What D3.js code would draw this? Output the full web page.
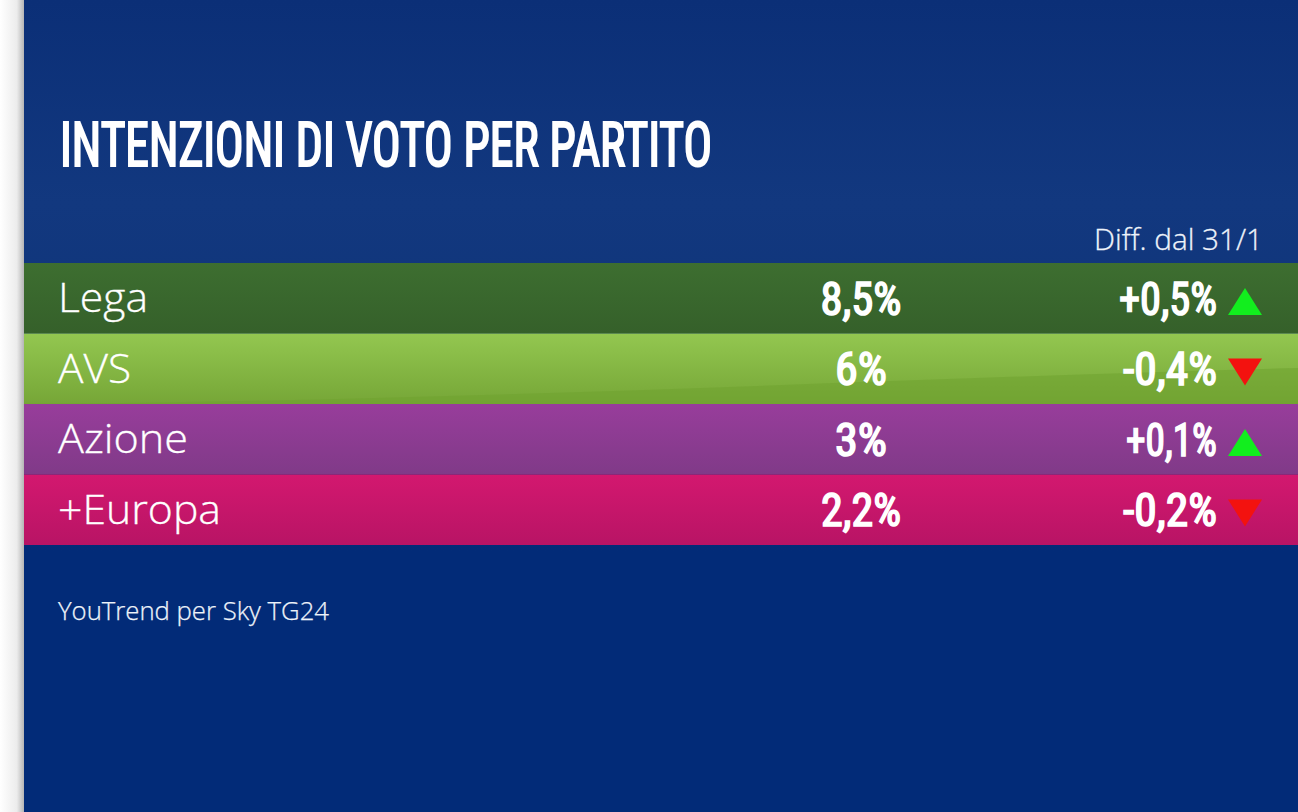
<!DOCTYPE html>
<html><head><meta charset="utf-8">
<script src="https://cdn.jsdelivr.net/npm/d3@7"></script>
<style>html,body{margin:0;padding:0;background:#fff;overflow:hidden}svg{display:block}</style>
</head><body><svg id="c" width="1298" height="812"></svg>
<script>
const parties = ["Lega","AVS","Azione","+Europa"];
const values = ["8,5%","6%","3%","2,2%"];
const diffs = ["+0,5%","-0,4%","+0,1%","-0,2%"];
const directions = ["up","down","up","down"];
const title = "INTENZIONI DI VOTO PER PARTITO";
const diffHeader = "Diff. dal 31/1";
const source = "YouTrend per Sky TG24";
const rowTop = ["#3d6e30","#93c750","#983d9b","#d3186f"];
const rowBottom = ["#35602a","#76a637","#803a88","#b81465"];
const partyWidths = [90,73,130,163];
const valueWidths = [81,52,52,80];
const diffWidths = [98,94,91,94];

const W=1298,H=812,L=24;
const svg=d3.select("#c");
const defs=svg.append("defs");
function grad(id,stops,x2,y2){
  const g=defs.append("linearGradient").attr("id",id).attr("x1",0).attr("y1",0).attr("x2",x2).attr("y2",y2);
  stops.forEach(s=>g.append("stop").attr("offset",s[0]).attr("stop-color",s[1]));
}
grad("bg",[[0,"#0b2f77"],[0.25,"#12387f"],[0.45,"#0f3479"],[0.68,"#022b78"],[1,"#022b78"]],0,1);
grad("edge",[[0,"#ffffff"],[0.7,"#ececec"],[1,"#b5b5b5"]],1,0);
parties.forEach((p,i)=>grad("row"+i,[[0,rowTop[i]],[1,rowBottom[i]]],0,1));

svg.append("rect").attr("width",W).attr("height",H).attr("fill","url(#bg)");
svg.append("rect").attr("width",L).attr("height",H).attr("fill","url(#edge)");

const y=d3.scaleBand().domain(parties).range([263,545]).padding(0);
const rows=svg.selectAll("g.row").data(parties).join("g").attr("class","row")
  .attr("transform",d=>`translate(0,${y(d)})`);
rows.append("rect").attr("x",L).attr("width",W-L).attr("height",y.bandwidth())
  .attr("fill",(d,i)=>`url(#row${i})`);

// swoosh on the AVS row
const bw=y.bandwidth();
const sw=d3.path();
sw.moveTo(L,bw);sw.bezierCurveTo(500,bw-4,900,bw-26,W,bw-36);sw.lineTo(W,bw);sw.closePath();
rows.filter(d=>d==="AVS").append("path").attr("d",sw.toString()).attr("fill","#6fa22f").attr("opacity",.55);

const narrow="'Liberation Sans Narrow','Roboto Condensed','Roboto',sans-serif";
const light="'Open Sans','Noto Sans',sans-serif";

svg.append("text").attr("x",60).attr("y",166).attr("fill","#fff").attr("stroke","#fff").attr("stroke-width",2.2)
  .attr("font-family",narrow).attr("font-weight",400).attr("font-size",61).text(title)
  .attr("textLength",652).attr("lengthAdjust","spacingAndGlyphs");

svg.append("text").attr("x",1263).attr("y",250).attr("text-anchor","end").attr("fill","#eef3fa")
  .attr("stroke","#eef3fa").attr("stroke-width",0.3)
  .attr("font-family",light).attr("font-weight",300).attr("font-size",30).text(diffHeader)
  .attr("textLength",169).attr("lengthAdjust","spacingAndGlyphs");

svg.append("text").attr("x",58).attr("y",620).attr("fill","#eef3fa")
  .attr("stroke","#eef3fa").attr("stroke-width",0.25)
  .attr("font-family",light).attr("font-weight",300).attr("font-size",25).text(source)
  .attr("textLength",271).attr("lengthAdjust","spacingAndGlyphs");

rows.append("text").attr("x",58).attr("y",49).attr("fill","#fff")
  .attr("stroke","#fff").attr("stroke-width",0.3)
  .attr("font-family",light).attr("font-weight",300).attr("font-size",40).text(d=>d)
  .attr("textLength",(d,i)=>partyWidths[i]).attr("lengthAdjust","spacingAndGlyphs");

rows.append("text").attr("x",861).attr("y",51.5).attr("text-anchor","middle").attr("fill","#fff")
  .attr("stroke","#fff").attr("stroke-width",1.6)
  .attr("font-family",narrow).attr("font-weight",400).attr("font-size",46)
  .text((d,i)=>values[i]).attr("textLength",(d,i)=>valueWidths[i]).attr("lengthAdjust","spacingAndGlyphs");

rows.append("text").attr("x",1217).attr("y",51.5).attr("text-anchor","end").attr("fill","#fff")
  .attr("stroke","#fff").attr("stroke-width",1.6)
  .attr("font-family",narrow).attr("font-weight",400).attr("font-size",46)
  .text((d,i)=>diffs[i]).attr("textLength",(d,i)=>diffWidths[i]).attr("lengthAdjust","spacingAndGlyphs");

rows.append("path").attr("transform","translate(1228,0)")
  .attr("d",(d,i)=>{
    const p=d3.path();
    if(directions[i]==="up"){p.moveTo(0,52);p.lineTo(34,52);p.lineTo(17,25);}
    else{p.moveTo(0,25);p.lineTo(34,25);p.lineTo(17,52);}
    p.closePath();return p.toString();
  })
  .attr("fill",(d,i)=>directions[i]==="up"?"#12ee1e":"#f3120f");
</script></body></html>
